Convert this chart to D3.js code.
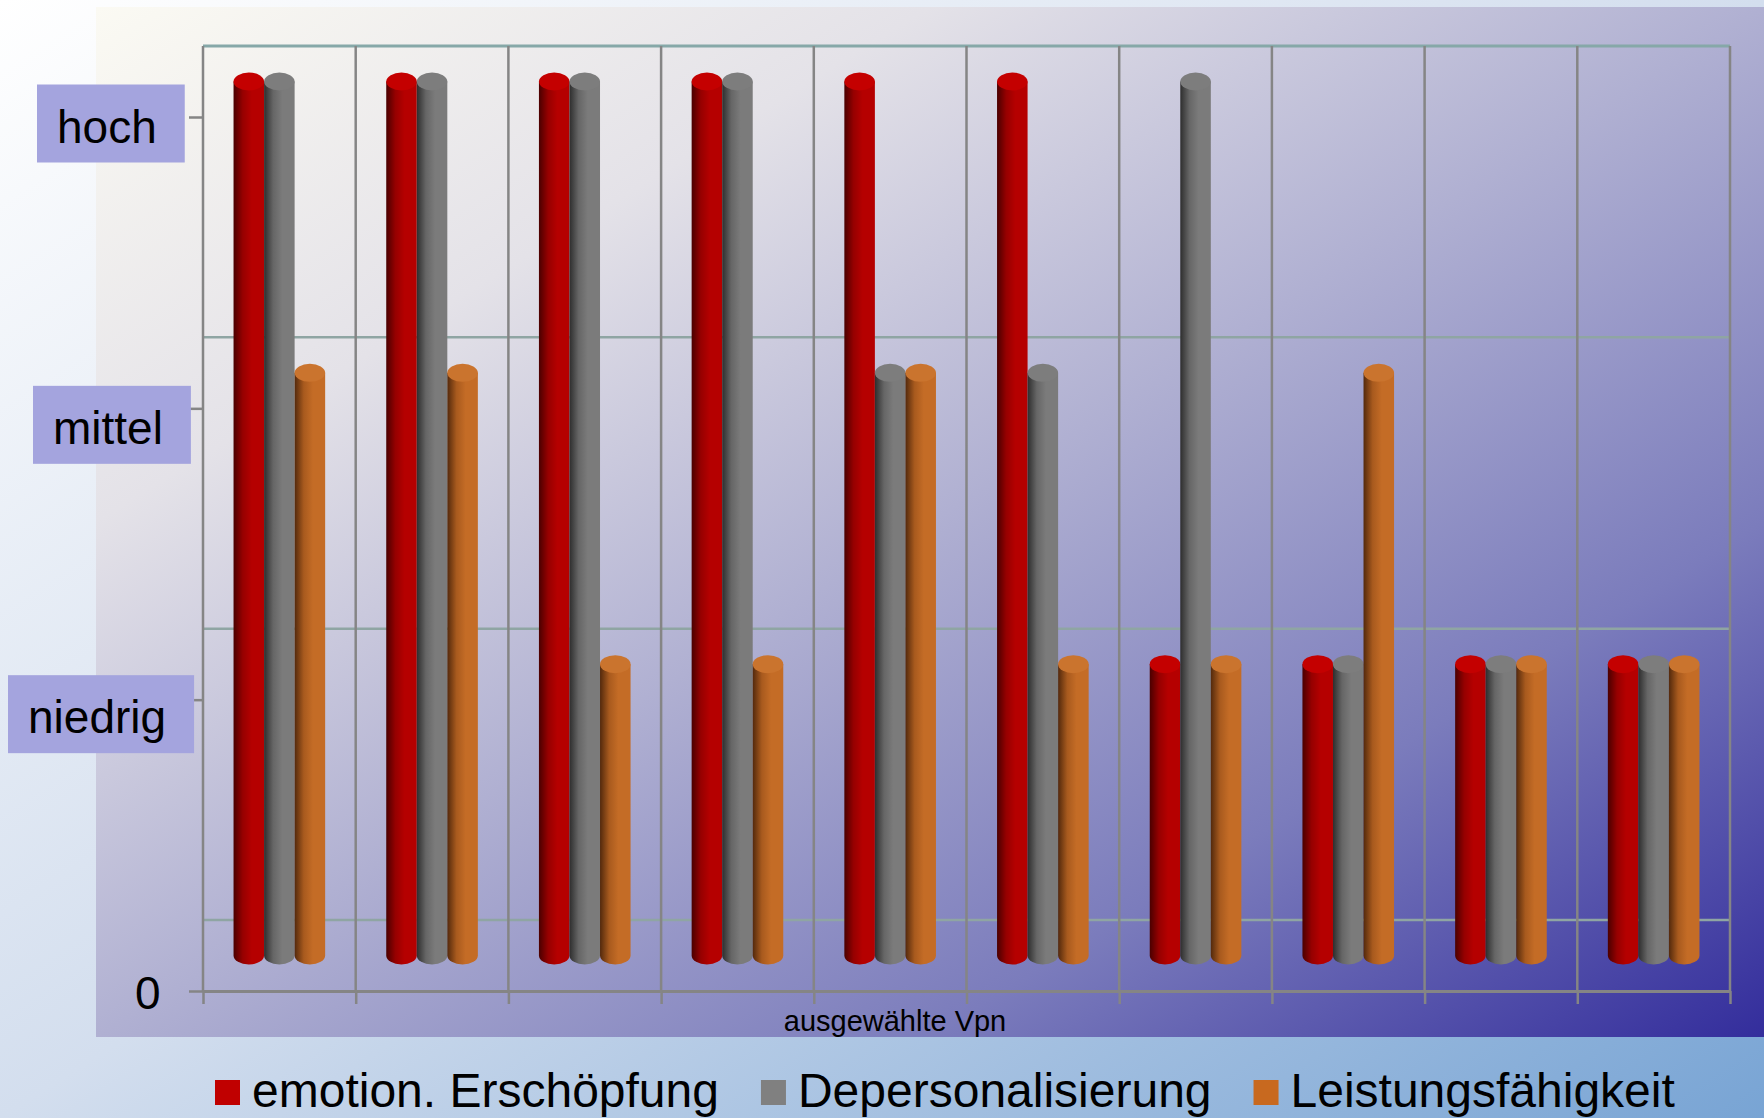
<!DOCTYPE html>
<html>
<head>
<meta charset="utf-8">
<script src="https://cdn.jsdelivr.net/npm/d3@7"></script>
<style>
  body { margin: 0; }
  text { font-family: "Liberation Sans", Arial, sans-serif; }
</style>
</head>
<body>
<div id="chart"></div>
<script>
// data
var categories = ["1", "2", "3", "4", "5", "6", "7", "8", "9", "10"];
var seriesNames = ["emotion. Erschöpfung", "Depersonalisierung", "Leistungsfähigkeit"];
var erschoepfung = [3, 3, 3, 3, 3, 3, 1, 1, 1, 1];
var depersonalisierung = [3, 3, 3, 3, 2, 2, 3, 1, 1, 1];
var leistung = [2, 2, 1, 1, 2, 1, 1, 2, 1, 1];
var levelValues = [0, 1, 2, 3];
var levelLabels = ["0", "niedrig", "mittel", "hoch"];
var xTitle = "ausgewählte Vpn";

var seriesValues = [erschoepfung, depersonalisierung, leistung];

// colours: [dark edge, mid, light side, top]
var palette = [
  ["#4a0000", "#960000", "#b50000", "#c40000"],
  ["#2e2e2e", "#666666", "#7b7b7b", "#7d7d7d"],
  ["#53290c", "#a85a1e", "#c46c26", "#ca742e"]
];
var legendColors = ["#c00000", "#808080", "#c8691f"];

var width = 1764, height = 1118;
var depth = 71; // back wall offset

var svg = d3.select("#chart")
  .append("svg")
    .attr("width", width)
    .attr("height", height);

var defs = svg.append("defs");

var pageGrad = defs.append("linearGradient")
  .attr("id", "pageGrad")
  .attr("x1", 0).attr("y1", 0).attr("x2", 1).attr("y2", 1);
pageGrad.append("stop").attr("offset", "0%").attr("stop-color", "#ffffff");
pageGrad.append("stop").attr("offset", "50%").attr("stop-color", "#d3deee");
pageGrad.append("stop").attr("offset", "100%").attr("stop-color", "#78a4d4");

var panelGrad = defs.append("linearGradient")
  .attr("id", "panelGrad")
  .attr("x1", 0).attr("y1", 0).attr("x2", 1).attr("y2", 1);
panelGrad.append("stop").attr("offset", "0%").attr("stop-color", "#fbfaf3");
panelGrad.append("stop").attr("offset", "25%").attr("stop-color", "#e4e2e8");
panelGrad.append("stop").attr("offset", "50%").attr("stop-color", "#b0b0d2");
panelGrad.append("stop").attr("offset", "75%").attr("stop-color", "#7b7cbc");
panelGrad.append("stop").attr("offset", "100%").attr("stop-color", "#332d9c");

palette.forEach(function(p, i) {
  var g = defs.append("linearGradient")
    .attr("id", "cyl" + i)
    .attr("x1", 0).attr("y1", 0).attr("x2", 1).attr("y2", 0);
  g.append("stop").attr("offset", "0%").attr("stop-color", p[0]);
  g.append("stop").attr("offset", "30%").attr("stop-color", p[1]);
  g.append("stop").attr("offset", "60%").attr("stop-color", p[2]);
  g.append("stop").attr("offset", "100%").attr("stop-color", p[2]);
});

svg.append("rect")
  .attr("width", width).attr("height", height)
  .attr("fill", "url(#pageGrad)");

svg.append("rect")
  .attr("x", 96).attr("y", 7)
  .attr("width", 1668).attr("height", 1030)
  .attr("fill", "url(#panelGrad)");

var x = d3.scaleBand()
  .domain(categories)
  .range([203, 1730]);

var xLin = d3.scaleLinear()
  .domain([0, categories.length])
  .range([203, 1730]);

var xs = d3.scaleBand()
  .domain(seriesNames)
  .range([0, x.bandwidth()])
  .paddingInner(0)
  .paddingOuter(1);

var y = d3.scaleLinear()
  .domain([0, 3])
  .range([991, 117]);

// back wall horizontal gridlines
svg.append("g")
  .selectAll("line")
  .data(levelValues)
  .join("line")
    .attr("x1", xLin(0)).attr("x2", xLin(categories.length))
    .attr("y1", d => y(d) - depth).attr("y2", d => y(d) - depth)
    .attr("stroke", d => d === 3 ? "#86a8a8" : "#8fa5a3")
    .attr("stroke-width", d => d === 3 ? 3 : 2.5);

// vertical gridlines
svg.append("g")
  .selectAll("line")
  .data(d3.range(categories.length + 1))
  .join("line")
    .attr("x1", d => xLin(d)).attr("x2", d => xLin(d))
    .attr("y1", y(3) - depth).attr("y2", y(0))
    .attr("stroke", "#858585")
    .attr("stroke-width", 2.5);

// x axis (front edge)
var xAxis = svg.append("g")
  .attr("transform", "translate(0," + y(0) + ")")
  .call(d3.axisBottom(xLin)
    .tickValues(d3.range(categories.length + 1))
    .tickSize(13)
    .tickSizeOuter(0)
    .tickFormat(""));
xAxis.select(".domain").attr("stroke", "#858585").attr("stroke-width", 3);
xAxis.selectAll(".tick line").attr("stroke", "#858585").attr("stroke-width", 2.5);

// y axis
var yAxis = svg.append("g")
  .attr("transform", "translate(" + xLin(0) + ",0)")
  .call(d3.axisLeft(y)
    .tickValues(levelValues)
    .tickSize(14)
    .tickFormat(d => levelLabels[d]));
yAxis.select(".domain").remove();
yAxis.selectAll(".tick line").attr("stroke", "#858585").attr("stroke-width", 2.5);

// label placement relative to tick: [text left x, baseline offset]
var labelPlace = { 0: [135, 17], 1: [28, 33], 2: [53, 35], 3: [57, 25] };
yAxis.selectAll(".tick").each(function(d) {
  var t = d3.select(this).select("text")
    .attr("x", labelPlace[d][0] - xLin(0))
    .attr("y", labelPlace[d][1])
    .attr("dy", null)
    .attr("text-anchor", "start")
    .attr("fill", "#000")
    .style("font-size", "46px")
    .style("font-family", "'Liberation Sans', Arial, sans-serif");
  if (d > 0) {
    var w = t.node().getComputedTextLength();
    d3.select(this).insert("rect", "text")
      .attr("x", labelPlace[d][0] - xLin(0) - 20)
      .attr("y", labelPlace[d][1] - 58)
      .attr("width", w + 48)
      .attr("height", 78)
      .attr("fill", "#a4a4de");
  }
});

// cylinders
var ry = 9;
var groups = svg.append("g")
  .selectAll("g")
  .data(categories)
  .join("g")
    .attr("transform", d => "translate(" + x(d) + ",0)");

groups.each(function(cat, ci) {
  var g = d3.select(this);
  seriesNames.forEach(function(s, si) {
    var v = seriesValues[si][ci];
    var x0 = xs(s), bw = xs.bandwidth(), rx = bw / 2;
    var top = y(v) - depth / 2, bottom = y(0) - depth / 2;
    g.append("path")
      .attr("d", "M" + x0 + "," + top +
        "L" + x0 + "," + bottom +
        "A" + rx + "," + ry + " 0 0 0 " + (x0 + bw) + "," + bottom +
        "L" + (x0 + bw) + "," + top + "Z")
      .attr("fill", "url(#cyl" + si + ")");
    g.append("ellipse")
      .attr("cx", x0 + rx).attr("cy", top)
      .attr("rx", rx).attr("ry", ry)
      .attr("fill", palette[si][3]);
  });
});

// axis title
svg.append("text")
  .attr("x", 895).attr("y", 1031)
  .attr("text-anchor", "middle")
  .style("font-size", "29px")
  .attr("fill", "#000")
  .text(xTitle);

// legend
var legend = svg.append("g");
var lx = 215;
seriesNames.forEach(function(s, i) {
  legend.append("rect")
    .attr("x", lx).attr("y", 1080)
    .attr("width", 25).attr("height", 25)
    .attr("fill", legendColors[i]);
  var t = legend.append("text")
    .attr("x", lx + 37).attr("y", 1107)
    .style("font-size", "48px")
    .attr("fill", "#000")
    .text(s);
  lx += 37 + t.node().getComputedTextLength() + 42;
});
</script>
</body>
</html>
